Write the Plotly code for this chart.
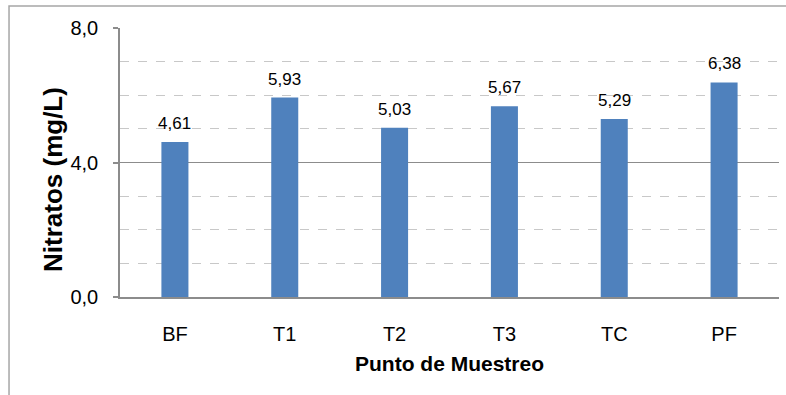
import plotly.graph_objects as go

categories = ["BF", "T1", "T2", "T3", "TC", "PF"]
nitratos = [4.61, 5.93, 5.03, 5.67, 5.29, 6.38]
y_ticks = [0, 4, 8]
y_tick_labels = ["0,0", "4,0", "8,0"]

FONT = "Liberation Sans, Arial, sans-serif"

fig = go.Figure(go.Bar(
    x=categories, y=nitratos, width=0.246,
    marker=dict(color="#4F81BD", line=dict(width=0)),
))

for c, v in zip(categories, nitratos):
    fig.add_annotation(
        x=c, y=v, text=f"{v:.2f}".replace(".", ","), showarrow=False,
        yanchor="bottom", yshift=7,
        font=dict(size=17, color="#000000", family=FONT),
    )

fig.add_annotation(
    x=-0.1017, y=0.4387, xref="paper", yref="paper",
    text="<b>Nitratos (mg/L)</b>", textangle=-90, showarrow=False,
    xanchor="center", yanchor="middle",
    font=dict(size=26, color="#000000", family=FONT),
)

fig.update_layout(
    width=786, height=395,
    margin=dict(l=120, r=7, t=28, b=98),
    plot_bgcolor="white", paper_bgcolor="white",
    separators=",.",
    showlegend=False,
    font=dict(family=FONT, color="#000000"),
    xaxis=dict(
        showline=True, linecolor="#8C8C8C", linewidth=1.5,
        ticks="", showgrid=False,
        tickfont=dict(size=20),
        ticklabelstandoff=18,
        title=dict(text="<b>Punto de Muestreo</b>", font=dict(size=21), standoff=13),
    ),
    yaxis=dict(
        range=[0, 8], tickvals=y_ticks, ticktext=y_tick_labels,
        showline=True, linecolor="#8C8C8C", linewidth=1.5,
        ticks="outside", ticklen=5, tickcolor="#8C8C8C", tickwidth=1.5,
        showgrid=True, gridcolor="#8C8C8C", gridwidth=1.3,
        zeroline=False,
        tickfont=dict(size=20),
        ticklabelstandoff=11,
        minor=dict(dtick=1, tick0=0, showgrid=True, gridcolor="#C8C8C8",
                   griddash="dash", gridwidth=1.3, ticks=""),
    ),
    shapes=[dict(type="rect", xref="paper", yref="paper",
                 x0=-0.1684, x1=1.2, y0=-0.6, y1=1.0818,
                 line=dict(color="#A6A6A6", width=1.5), layer="below")],
)

fig.write_html("out.html")
